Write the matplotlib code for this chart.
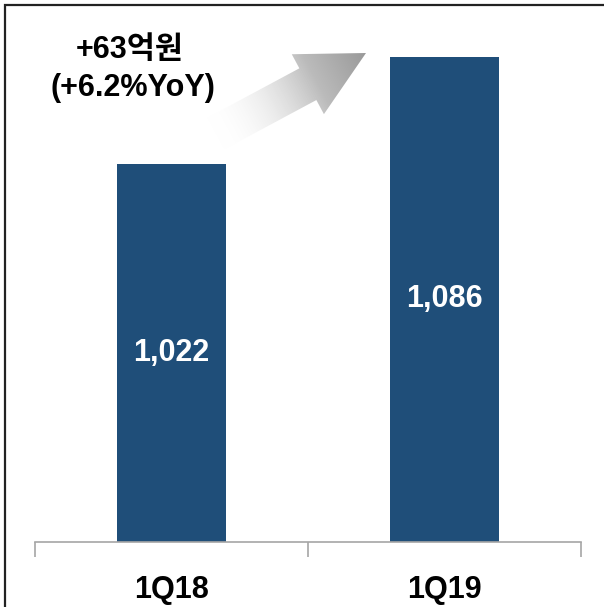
import numpy as np
import matplotlib
matplotlib.use('Agg')
import matplotlib.pyplot as plt
from matplotlib.patches import Polygon

# data
quarters = ['1Q18', '1Q19']
revenue = [1022, 1086]
value_labels = ['1,022', '1,086']
growth_lines = ['+63억원', '(+6.2%YoY)']

FONT = ['Liberation Sans', 'Noto Sans CJK KR', 'DejaVu Sans']
BAR_COLOR = '#1F4E79'

W, H = 604, 607
fig = plt.figure(figsize=(W / 100, H / 100), dpi=100)

# main axes, placed in pixel units
left, right, bottom, top = 35, 581, 542, 10
ax = fig.add_axes([left / W, (H - bottom) / H, (right - left) / W, (bottom - top) / H])
x = np.arange(len(quarters))
bars = ax.bar(x, revenue, width=0.40, color=BAR_COLOR, zorder=2)
ax.set_xlim(-0.5, 1.5)
ax.set_ylim(796, 1114)

for b, lab in zip(bars, value_labels):
    ymid = ax.get_ylim()[0] + (b.get_height() - ax.get_ylim()[0]) / 2
    ax.text(b.get_x() + b.get_width() / 2, ymid, lab, ha='center', va='center',
            color='white', fontsize=22, fontweight='bold', family=FONT)

for s in ['left', 'right', 'top']:
    ax.spines[s].set_visible(False)
ax.spines['bottom'].set_color('#A6A6A6')
ax.spines['bottom'].set_linewidth(1.2)
ax.set_yticks([])
ax.set_xticks(x)
ax.set_xticklabels(quarters, fontsize=22, fontweight='bold', family=FONT)
ax.tick_params(axis='x', which='major', length=0, pad=24)
ax.set_xticks([-0.5, 0.5, 1.5], minor=True)
ax.tick_params(axis='x', which='minor', length=11, color='#A6A6A6', width=1.2,
               direction='out')
ax.patch.set_alpha(0)

# overlay in pixel coordinates for the arrow, text and frame
ov = fig.add_axes([0, 0, 1, 1], zorder=5)
ov.axis('off')
ov.patch.set_alpha(0)

tail = np.array([215.0, 134.0])
tip = np.array([366.0, 53.0])
u = (tip - tail) / np.linalg.norm(tip - tail)
n = np.array([-u[1], u[0]])
shaft_w, head_w, head_len = 18, 34, 66
hb = tip - head_len * u
pts = [tail + shaft_w * n, hb + shaft_w * n, hb + head_w * n, tip,
       hb - head_w * n, hb - shaft_w * n, tail - shaft_w * n]
poly = Polygon(pts, closed=True, facecolor='none', edgecolor='none')
ov.add_patch(poly)

# gradient along the arrow direction
gx, gy = np.meshgrid(np.arange(180, 400), np.arange(20, 170))
t = ((gx - tail[0]) * u[0] + (gy - tail[1]) * u[1]) / np.linalg.norm(tip - tail)
t = np.clip(t, 0, 1)
rgba = np.zeros(t.shape + (4,))
shade = 1 - 0.40 * t
rgba[..., 0] = shade
rgba[..., 1] = shade
rgba[..., 2] = shade
rgba[..., 3] = np.clip(t * 1.5, 0, 1)
im = ov.imshow(rgba, extent=(180, 400, 170, 20), origin='upper', interpolation='bilinear')
im.set_clip_path(poly)

ov.text(130, 50, growth_lines[0], ha='center', va='center', fontsize=22,
        fontweight='bold', family=FONT)
ov.text(133, 88, growth_lines[1], ha='center', va='center', fontsize=22,
        fontweight='bold', family=FONT)

# frame only on the left and top edges
ov.plot([5, 5, W], [H, 5, 5], color='#222222', linewidth=1.6, solid_joinstyle='miter')
ov.set_xlim(0, W)
ov.set_ylim(H, 0)

fig.savefig('out.png', dpi=100)
